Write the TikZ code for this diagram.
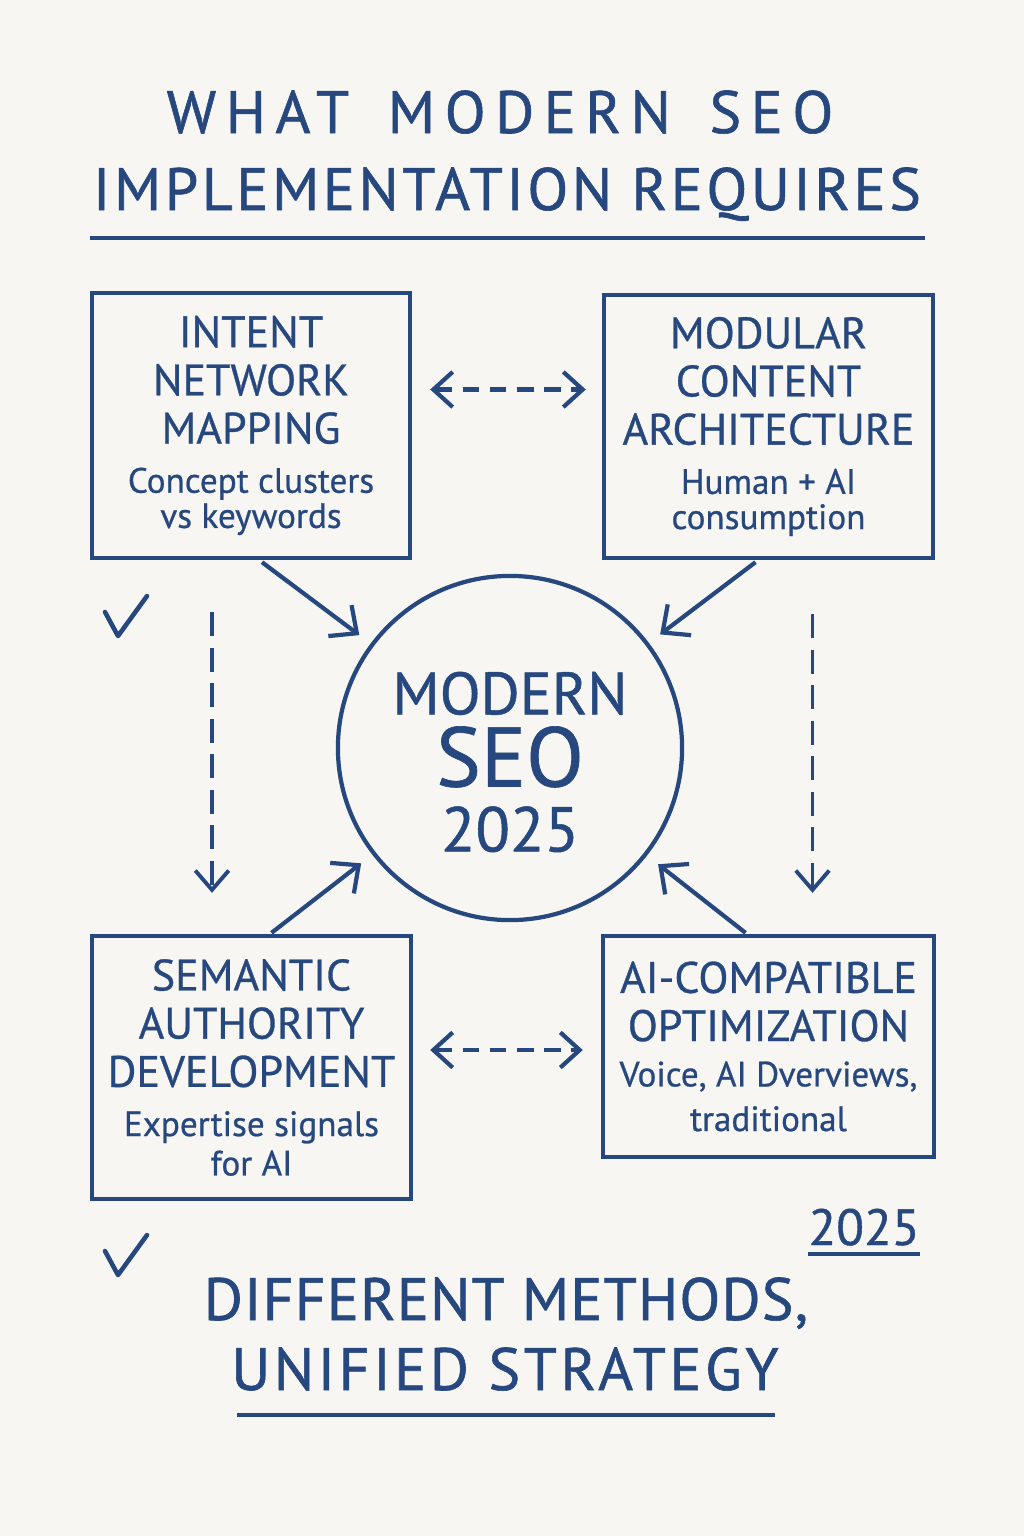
\documentclass[tikz,border=0pt]{standalone}
\usepackage{fontspec}
\setmainfont{PT Sans}
\usetikzlibrary{arrows.meta,calc}

\definecolor{ink}{HTML}{27487F}
\definecolor{paper}{HTML}{F7F6F2}

\newcommand{\titlefont}{\fontsize{17}{20}\selectfont\addfontfeature{LetterSpace=6,FakeBold=1}}
\newcommand{\cardfont}{\fontsize{12.5}{13.7}\selectfont\addfontfeature{FakeBold=0.7}}
\newcommand{\subtxt}[1]{{\fontsize{10}{10}\selectfont #1}}

\begin{document}
\begin{tikzpicture}[x=0.01cm, y=-0.01cm,
	>={Straight Barb[length=6pt,width=11pt]},
	card/.style={draw=ink, line width=1.2pt, text=ink, align=center, inner sep=0pt, font=\cardfont},
	link/.style={draw=ink, line width=1.2pt, ->, shorten >=4pt},
	dlink/.style={draw=ink, line width=1.2pt, dash pattern=on 4.8pt off 2.9pt, >={Straight Barb[length=5.5pt,width=10pt]}},
	vlink/.style={draw=ink, line width=1.1pt, dash pattern=on 6.8pt off 3.3pt, >={Straight Barb[length=5.5pt,width=9.5pt]}},
	txt/.style={text=ink, anchor=base, inner sep=0pt}]
	
	\fill[paper] (0,0) rectangle (1024,1536);
	
	% title
	\node[txt, font=\titlefont\addfontfeature{LetterSpace=16}] (t1) at (500,133) {WHAT\hspace{11pt}MODERN\hspace{11pt}SEO};
	\node[txt, font=\titlefont] (t2) at (507,210) {IMPLEMENTATION REQUIRES};
	\draw[ink, line width=1.3pt] (90,238) -- (925,238);
	
	% the four cards
	\node[card, minimum width=3.18cm, minimum height=2.65cm] (intent) at (251,425.5)
		{INTENT\\NETWORK\\MAPPING\\[0.3pt]\subtxt{Concept clusters}\\[-3.7pt]\subtxt{vs keywords}};
	\node[card, minimum width=3.29cm, minimum height=2.63cm] (modular) at (768.5,426.5)
		{MODULAR\\CONTENT\\ARCHITECTURE\\[0.3pt]\subtxt{Human + AI}\\[-3.7pt]\subtxt{consumption}};
	\node[card, minimum width=3.19cm, minimum height=2.63cm] (semantic) at (251.5,1067.5)
		{SEMANTIC\\AUTHORITY\\DEVELOPMENT\\[0.3pt]\subtxt{Expertise signals}\\[-2.5pt]\subtxt{for AI}};
	\node[card, minimum width=3.31cm, minimum height=2.21cm] (aicomp) at (768.5,1046.5)
		{AI-COMPATIBLE\\OPTIMIZATION\\[-0.8pt]\subtxt{Voice, AI Dverviews,}\\[-1pt]\subtxt{traditional}};
	
	% hub
	\node[circle, draw=ink, line width=1.2pt, minimum size=3.44cm] (seo) at (510,748) {};
	\node[text=ink, align=center, inner sep=0pt, font=\fontsize{17}{20.5}\selectfont\addfontfeature{FakeBold=0.8}] (seolbl) at (510,762)
		{MODERN\\{\fontsize{24}{24}\selectfont SEO}\\[-2pt]{\fontsize{18}{18}\selectfont 2025}};
	
	\foreach \b/\dx in {intent/11, modular/-13}
	\draw[link] ($(\b.south)+(\dx,2)$) -- (seo);
	\foreach \b/\dx in {semantic/20, aicomp/-23}
	\draw[link] ($(\b.north)+(\dx,-1)$) -- (seo);
	
	\draw[dlink, <->] ($(intent.east)+(18,-36)$) -- ($(modular.west)+(-16,-37)$);
	\draw[dlink, <->] ($(semantic.east)+(17,-17.5)$) -- ($(aicomp.west)+(-18,3.5)$);
	\draw[vlink, ->] ($(intent.south)+(-39,52)$) -- ($(semantic.north)+(-39.5,-41)$);
	\draw[vlink, ->] ($(modular.south)+(44,54)$) -- ($(aicomp.north)+(44,-41)$);
	
	% ticks
	\foreach \y in {0, 639}
	\draw[ink, line width=1.3pt, line join=round, line cap=round] (105,612+\y) -- (118,636+\y) -- (147,596+\y);
	
	% footer
	\node[txt, font=\fontsize{14.5}{15}\selectfont\addfontfeature{FakeBold=0.8}] (yr) at (864,1245) {2025};
	\draw[ink, line width=1.2pt] (808,1254) -- (920,1254);
	\node[txt, font=\titlefont\addfontfeature{LetterSpace=2}] (d1) at (506,1320) {DIFFERENT METHODS,};
	\node[txt, font=\titlefont] (d2) at (505,1390) {UNIFIED STRATEGY};
	\draw[ink, line width=1.3pt] (237,1415) -- (775,1415);
\end{tikzpicture}
\end{document}
